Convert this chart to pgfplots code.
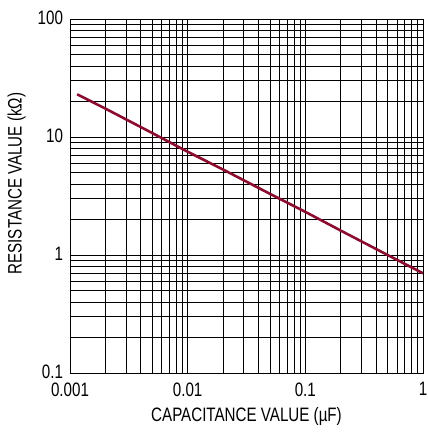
\documentclass[border=0pt]{standalone}
\usepackage{pgfplots}
\pgfplotsset{compat=1.18}
\usepackage{fontspec}
\setmainfont{Liberation Sans}[FakeStretch=0.78]
\definecolor{curve}{RGB}{140,12,48}
\begin{document}
\begin{tikzpicture}[x=1bp,y=1bp]
\path[use as bounding box] (-70,-66) rectangle (357,373);
\begin{axis}[
 at={(0,0)}, anchor=south west,
 scale only axis, width=353bp, height=354bp,
 xmode=log, ymode=log,
 xmin=0.001, xmax=1, ymin=0.1, ymax=100,
 xtick={0.001,0.01,0.1,1}, xticklabels={0.001,0.01,0.1,1},
 ytick={0.1,1,10,100}, yticklabels={0.1,1,10,100},
 major tick length=0, minor tick length=0,
 grid=both,
 major grid style={black,line width=0.7bp},
 minor grid style={black,line width=0.7bp},
 axis line style={black,line width=0.8bp},
 tick label style={font=\fontsize{19.5}{21}\selectfont},
 xticklabel style={yshift=-6bp},
 yticklabel style={xshift=-3.5bp,yshift=1bp},
 label style={font=\fontsize{19.5}{21}\selectfont},
 xlabel={CAPACITANCE VALUE (µF)},
 ylabel={RESISTANCE VALUE (kΩ)},
 xlabel style={at={(axis description cs:0.5,-0.124)},anchor=center},
 ylabel style={at={(axis description cs:-0.1516,0.535)},anchor=center},
 clip=true,
]
\addplot[color=curve, line width=2.6bp] coordinates {
(0.00115,23.0) (0.002,17.4) (0.005,10.8) (0.01,7.5) (0.02,5.3) (0.05,3.3) (0.1,2.32) (0.2,1.61) (0.5,1.0) (1,0.70)
};
\node[anchor=east,font=\fontsize{10.5}{12}\selectfont,inner sep=0pt] at (rel axis cs:1,0) [yshift=-60bp,xshift=1bp] {2965 F06c};
\end{axis}
\end{tikzpicture}
\end{document}
